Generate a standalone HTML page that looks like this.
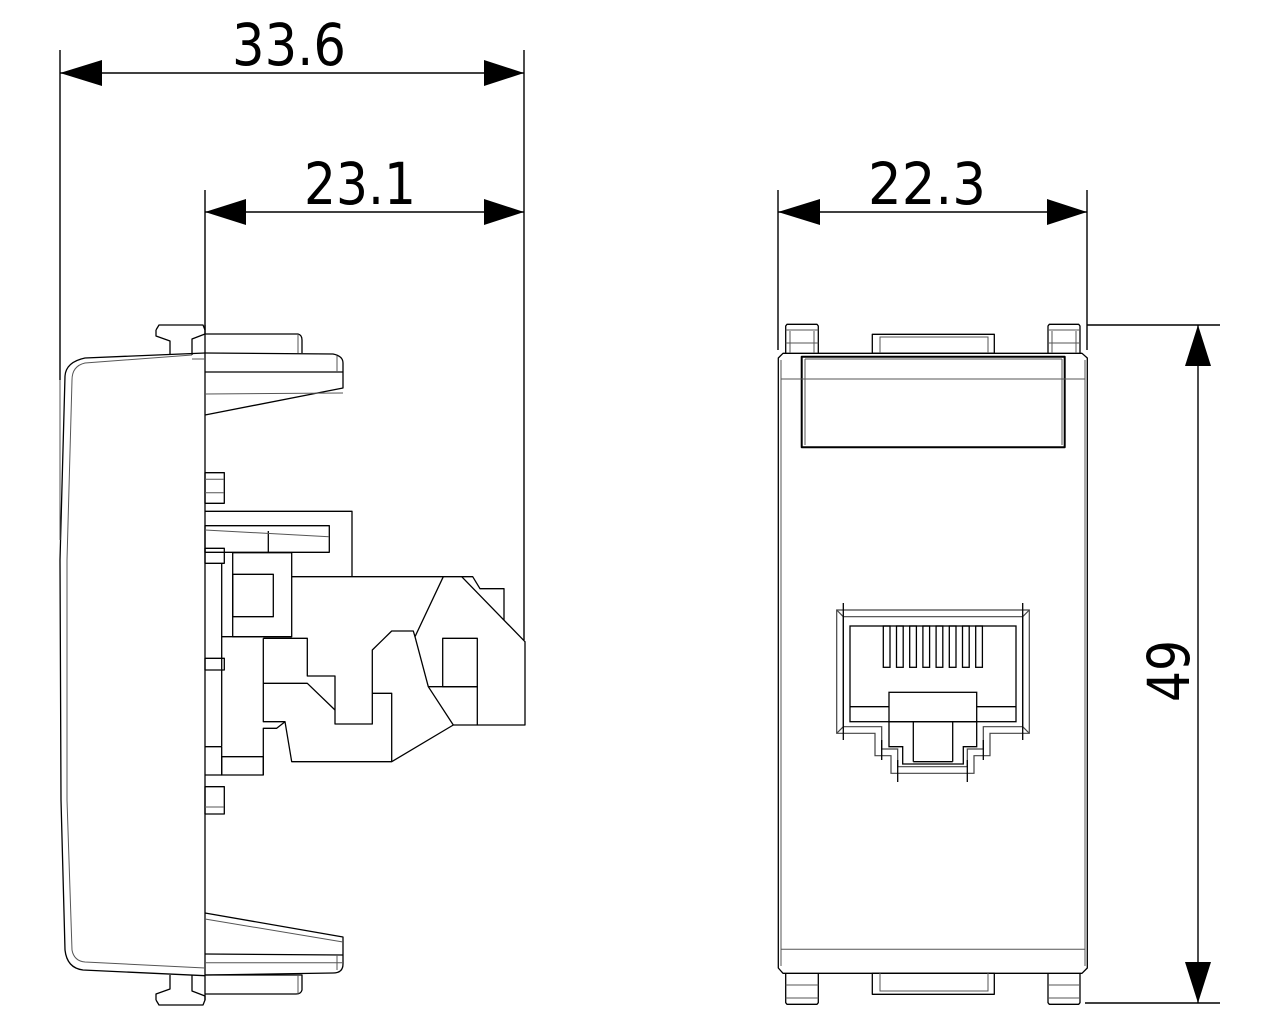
<!DOCTYPE html>
<html><head><meta charset="utf-8"><style>
html,body{margin:0;padding:0;background:#fff}
svg{display:block}
text{font-family:"DejaVu Sans","Liberation Sans",sans-serif;fill:#000}
</style></head><body>
<svg width="1280" height="1024" viewBox="0 0 1280 1024" xmlns="http://www.w3.org/2000/svg">
<g fill="none" stroke="#000" stroke-width="1.4" stroke-linejoin="round">
<line x1="60" y1="50" x2="60" y2="380"/>
<line x1="524" y1="50" x2="524" y2="640"/>
<line x1="60" y1="73" x2="524" y2="73"/>
<line x1="205" y1="190" x2="205" y2="330"/>
<line x1="205" y1="212" x2="524" y2="212"/>
<line x1="778" y1="190" x2="778" y2="350"/>
<line x1="1087" y1="190" x2="1087" y2="350"/>
<line x1="778" y1="212" x2="1087" y2="212"/>
<line x1="1087" y1="325" x2="1220" y2="325"/>
<line x1="1085" y1="1003" x2="1220" y2="1003"/>
<line x1="1198" y1="325" x2="1198" y2="1003"/>
</g>
<g fill="#000" stroke="none">
<polygon points="60,73 102,60 102,86"/>
<polygon points="524,73 484,60 484,86"/>
<polygon points="205,212 246,199 246,225"/>
<polygon points="524,212 484,199 484,225"/>
<polygon points="778,212 820,199 820,225"/>
<polygon points="1087,212 1047,199 1047,225"/>
<polygon points="1198,325 1185,366 1211,366"/>
<polygon points="1198,1003 1185,962 1211,962"/>
</g>
<g font-size="58">
<text x="232" y="65" textLength="114" lengthAdjust="spacingAndGlyphs">33.6</text>
<text x="304" y="204" textLength="112" lengthAdjust="spacingAndGlyphs">23.1</text>
<text x="868" y="204" textLength="118" lengthAdjust="spacingAndGlyphs">22.3</text>
<text transform="translate(1189,702) rotate(-90)" textLength="62" lengthAdjust="spacingAndGlyphs">49</text>
</g>

<!-- SIDE VIEW -->
<g fill="none" stroke="#000" stroke-width="1.3" stroke-linejoin="round">
<line x1="205" y1="325" x2="205" y2="1000"/>
<path d="M205,353 L85,358 Q66,362 65,376 L60,560 L61,800 L65,950 Q67,968 83,970 L205,975.7"/>
<path d="M156,330 L159,325 L203,325 L205,330 L205,334 L192,339 L192,355 M156,330 L156,336 L170,341 L170,355"/>
<path d="M205,334 L298,334 Q302,335 302,340 L302,353"/>
<path d="M205,353 L333,354 Q343,356 343,363 L343,388 L205,415"/>
<line x1="205" y1="372" x2="343" y2="372"/>
<path d="M205,913 L343,937 L343,964 Q343,973 333,973 L205,975"/>
<line x1="205" y1="954" x2="343" y2="955"/>
<path d="M205,975 L302,975 L302,990 Q301,994 296,994 L205,994"/>
<path d="M156,1000 L159,1005 L203,1005 L205,1000 L205,996 L192,991 L192,975 M156,1000 L156,994 L170,989 L170,975"/>
<rect x="205" y="472.7" width="19.3" height="30.6"/>
<rect x="205" y="548.3" width="19.3" height="15"/>
<rect x="205" y="658.3" width="19.3" height="11.7"/>
<rect x="205" y="786.7" width="19.3" height="27.3"/>
<line x1="221.7" y1="563" x2="221.7" y2="746"/>
<path d="M205,746.7 L221.7,746.7 L221.7,775 L205,775"/>
<rect x="221.7" y="756.7" width="41.6" height="18.3"/>
<path d="M205,511.3 L352,511.3 L352,576.7"/>
<rect x="205" y="525.7" width="124.3" height="26.6"/>
<line x1="268.3" y1="531" x2="268.3" y2="552.3"/>
<rect x="232.7" y="552.7" width="59" height="84"/>
<rect x="232.7" y="574.3" width="40.6" height="42.4"/>
<line x1="221.7" y1="636.7" x2="291.7" y2="636.7"/>
<path d="M291.7,576.7 L472.7,576.7 L480,588.7 L504,588.7 L504,620"/>
<path d="M461.7,576.7 L525,641.7 L525,725 L477.3,725"/>
<path d="M443.3,576.7 L415,636.7 L428.3,686.7 L453.3,725 L391.7,761.7 L291.7,761.7 L285,721.7 L276.7,728.3 L263.3,728.3 L263.3,775"/>
<rect x="442.7" y="638.3" width="34.6" height="48.4"/>
<path d="M428.3,686.7 L477.3,686.7 L477.3,725 L453.3,725"/>
<path d="M263.3,638.3 L307.3,638.3 L307.3,676 L335,676 L335,724 L372.3,724 L372.3,650 L391.7,631 L413.3,631 L415,636.7"/>
<path d="M263.3,683.3 L307.3,683.3 L335,710"/>
<path d="M372.3,693.3 L391.7,693.3 L391.7,761.7"/>
<path d="M263.3,638.3 L263.3,721.7 L285,721.7"/>
</g>
<g fill="none" stroke="#555" stroke-width="1">
<path d="M192,355 L85,363 Q72,366 72,380 L67,560 L67,800 L72,950 Q74,961 85,962 L205,968"/>
<line x1="205" y1="359" x2="192" y2="359"/>
<line x1="205" y1="394" x2="343" y2="393"/>
<line x1="337" y1="356" x2="337" y2="372"/>
<line x1="205" y1="919" x2="343" y2="942"/>
<line x1="205" y1="962.7" x2="343" y2="962.7"/>
<line x1="337" y1="955" x2="337" y2="970"/>
<line x1="298" y1="334" x2="298" y2="353"/>
<line x1="298" y1="975" x2="298" y2="994"/>
<line x1="205" y1="530" x2="329" y2="536.7"/>
<line x1="205" y1="479.3" x2="224" y2="479.3"/>
<line x1="205" y1="492.7" x2="224" y2="492.7"/>
<line x1="205" y1="807" x2="224" y2="807"/>
<line x1="60" y1="380" x2="60" y2="540"/>
</g>

<!-- FRONT VIEW -->
<g fill="none" stroke="#000" stroke-width="1.3" stroke-linejoin="round">
<path d="M785.7,353.3 L783,353.3 L778.3,358 L778.3,968 L783,973.3 L1082,973.3 L1087.3,968 L1087.3,358 L1082,353.3 Z"/>
<rect x="801.7" y="356.7" width="263" height="90.6" stroke-width="2"/>
<path d="M785.7,353.3 L785.7,326 L787,324.3 L817,324.3 L818.3,326 L818.3,353.3"/>
<path d="M1048,353.3 L1048,326 L1049.3,324.3 L1078.7,324.3 L1080,326 L1080,353.3"/>
<rect x="872.3" y="334.3" width="122" height="19"/>
<path d="M785.7,973.3 L785.7,1002.7 L787,1004.3 L817,1004.3 L818.3,1002.7 L818.3,973.3"/>
<path d="M1048,973.3 L1048,1002.7 L1049.3,1004.3 L1078.7,1004.3 L1080,1002.7 L1080,973.3"/>
<rect x="872.3" y="973.3" width="122" height="21"/>
</g>
<g fill="none" stroke="#555" stroke-width="1">
<path d="M781,360 L781,966 M1085,360 L1085,966"/>
<line x1="781" y1="379" x2="1085" y2="379"/>
<line x1="781" y1="949.3" x2="1085" y2="949.3"/>
<line x1="805" y1="359" x2="1062" y2="359"/>
<line x1="805" y1="359" x2="805" y2="445"/>
<line x1="1062" y1="359" x2="1062" y2="445"/>
<line x1="785.7" y1="330" x2="818.3" y2="330"/><line x1="785.7" y1="343" x2="818.3" y2="343"/>
<line x1="1048" y1="330" x2="1080" y2="330"/><line x1="1048" y1="343" x2="1080" y2="343"/>
<line x1="785.7" y1="985" x2="818.3" y2="985"/><line x1="785.7" y1="998" x2="818.3" y2="998"/>
<line x1="1048" y1="985" x2="1080" y2="985"/><line x1="1048" y1="998" x2="1080" y2="998"/>
<line x1="790" y1="331" x2="790" y2="353"/><line x1="814" y1="331" x2="814" y2="353"/>
<line x1="1052" y1="331" x2="1052" y2="353"/><line x1="1076" y1="331" x2="1076" y2="353"/>
<path d="M880,353 L880,337 L988,337 L988,353"/>
<path d="M880,973 L880,991 L988,991 L988,973"/>
</g>
<g fill="none" stroke="#444" stroke-width="1.2">
<path d="M836.7,733.3 L836.7,610 L1029.3,610 L1029.3,733.3 L990,733.3 L990,755.7 L974,755.7 L974,773.3 L891,773.3 L891,755.7 L875,755.7 L875,733.3 Z"/>
<path d="M843.3,726.7 L843.3,616.7 L1022.7,616.7 L1022.7,726.7 L983.3,726.7 L983.3,749 L967.3,749 L967.3,766.7 L897.7,766.7 L897.7,749 L881.7,749 L881.7,726.7 Z"/>
<path d="M836.7,610 L843.3,616.7 M1029.3,610 L1022.7,616.7 M836.7,733.3 L843.3,726.7 M1029.3,733.3 L1022.7,726.7"/>
</g>
<g fill="none" stroke="#000" stroke-width="1.3">
<line x1="843.3" y1="603" x2="843.3" y2="740"/>
<line x1="1022.7" y1="603" x2="1022.7" y2="740"/>
<line x1="881.7" y1="740" x2="881.7" y2="760"/>
<line x1="983.3" y1="740" x2="983.3" y2="760"/>
<line x1="897.7" y1="760" x2="897.7" y2="782"/>
<line x1="967.3" y1="760" x2="967.3" y2="782"/>
<rect x="850" y="626" width="166" height="95.7"/>
<line x1="850" y1="706.7" x2="889" y2="706.7"/>
<line x1="976.7" y1="706.7" x2="1016" y2="706.7"/>
<rect x="889" y="692.3" width="87.7" height="29.4"/>
<path d="M889,721.7 L889,746.7 L902.7,746.7 L902.7,764 L963.3,764 L963.3,746.7 L976.7,746.7 L976.7,721.7"/>
<line x1="913.3" y1="721.7" x2="913.3" y2="761.7"/>
<line x1="952.7" y1="721.7" x2="952.7" y2="761.7"/>
<line x1="913.3" y1="761.7" x2="952.7" y2="761.7"/>
<rect x="883.3" y="626" width="6.7" height="41.3"/>
<rect x="896.5" y="626" width="6.7" height="41.3"/>
<rect x="909.7" y="626" width="6.7" height="41.3"/>
<rect x="922.9" y="626" width="6.7" height="41.3"/>
<rect x="936.1" y="626" width="6.7" height="41.3"/>
<rect x="949.3" y="626" width="6.7" height="41.3"/>
<rect x="962.5" y="626" width="6.7" height="41.3"/>
<rect x="975.7" y="626" width="6.7" height="41.3"/>
</g>
</svg>
</body></html>
